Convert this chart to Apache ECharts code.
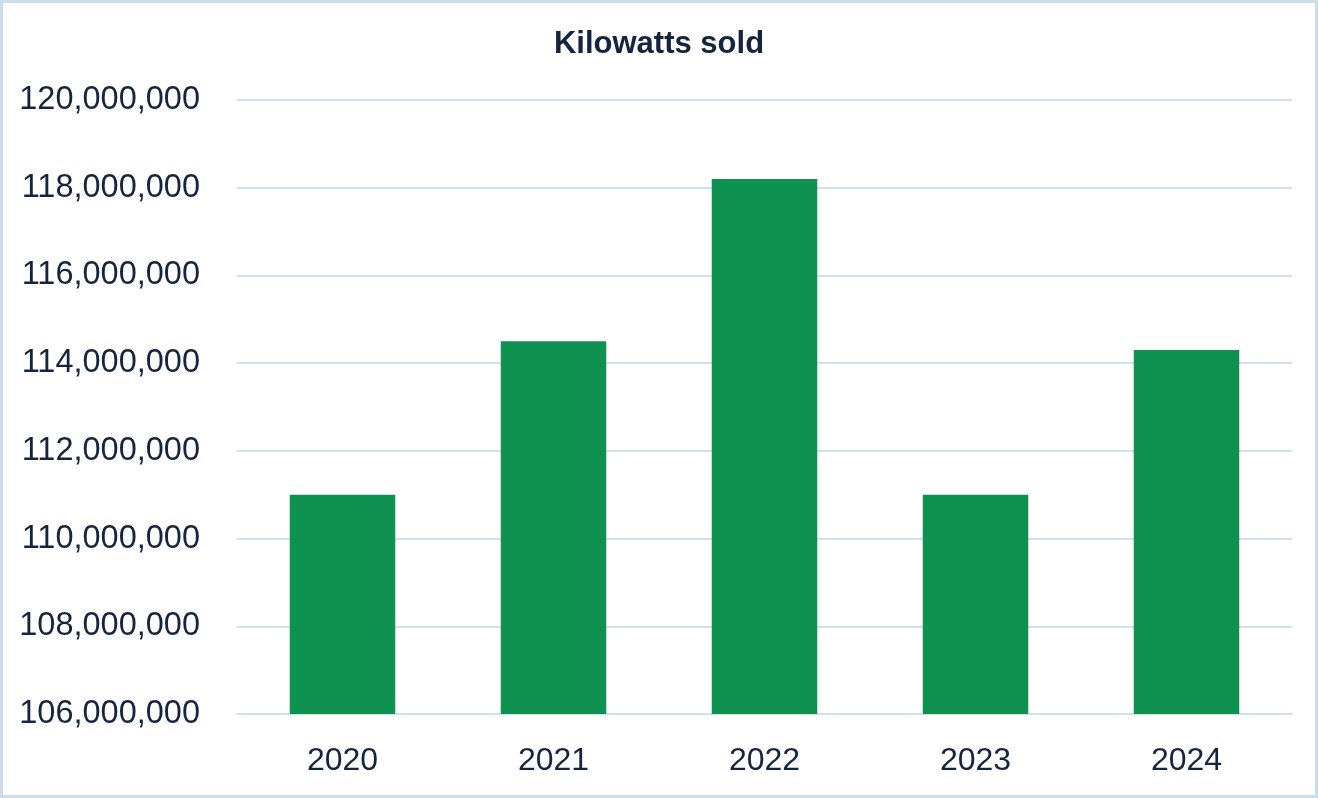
<!DOCTYPE html>
<html>
<head>
<meta charset="utf-8">
<script src="https://cdn.jsdelivr.net/npm/echarts@6/dist/echarts.min.js"></script>
<style>
html,body{margin:0;padding:0;background:#fff;}
#c{width:1318px;height:798px;}
</style>
</head>
<body>
<div id="c"></div>
<script>
var chartTitle = 'Kilowatts sold';
var years = ['2020', '2021', '2022', '2023', '2024'];
var kilowatts = [111000000, 114500000, 118200000, 111000000, 114300000];
var yMin = 106000000, yMax = 120000000, yStep = 2000000;

var chart = echarts.init(document.getElementById('c'));
var textColor = '#15243f';
var gridColor = '#d0e0ee';
chart.setOption({
  animation: false,
  backgroundColor: '#ffffff',
  title: {
    text: chartTitle,
    left: 'center',
    top: 24,
    textStyle: { fontFamily: 'Liberation Sans', fontSize: 31, fontWeight: 'bold', color: textColor }
  },
  graphic: [{
    type: 'rect',
    shape: { x: 1.5, y: 1.5, width: 1315, height: 795 },
    style: { fill: 'none', stroke: '#cddcea', lineWidth: 3 },
    silent: true
  }],
  grid: { left: 237, right: 26, top: 100, bottom: 84, containLabel: false },
  xAxis: {
    type: 'category',
    data: years,
    axisLine: { show: true, lineStyle: { color: gridColor, width: 2 } },
    axisTick: { show: false },
    axisLabel: { color: textColor, fontFamily: 'Liberation Sans', fontSize: 32, margin: 31 }
  },
  yAxis: {
    type: 'value',
    min: yMin,
    max: yMax,
    interval: yStep,
    axisLine: { show: false },
    axisTick: { show: false },
    splitLine: { show: true, lineStyle: { color: gridColor, width: 2 } },
    axisLabel: {
      color: textColor, fontFamily: 'Liberation Sans', fontSize: 32.5, margin: 37,
      formatter: function (v) { return v.toLocaleString('en-US'); }
    }
  },
  series: [{
    type: 'bar',
    data: kilowatts,
    barWidth: '50%',
    itemStyle: { color: '#0f9150' }
  }]
});
</script>
</body>
</html>
